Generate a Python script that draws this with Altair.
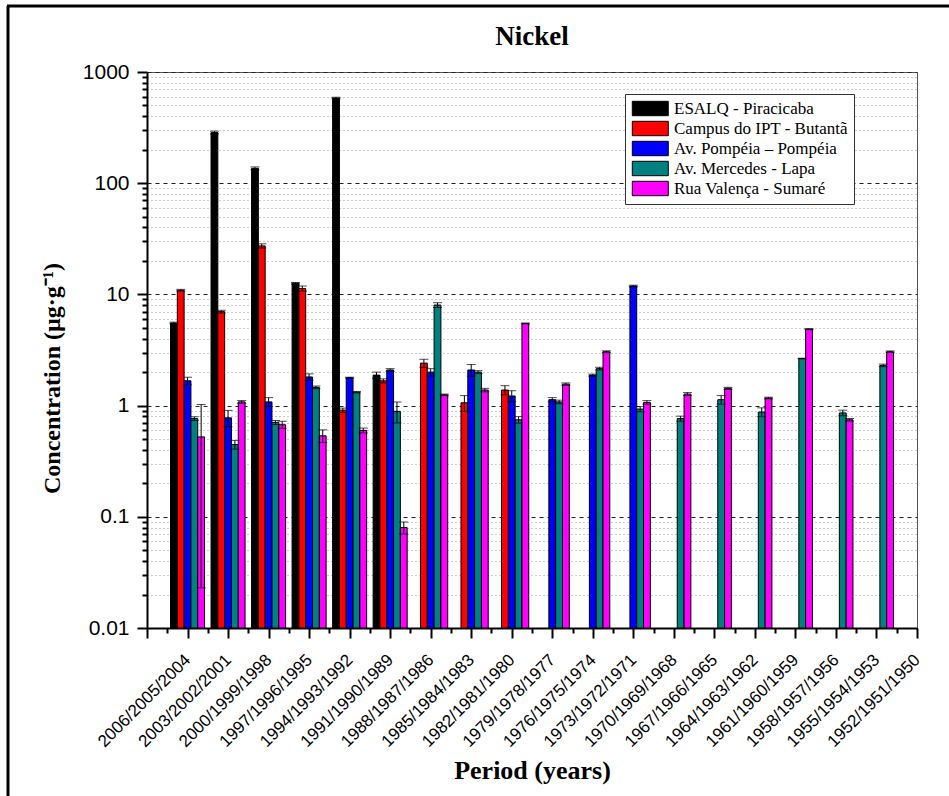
import altair as alt
import pandas as pd

periods = ["2006/2005/2004", "2003/2002/2001", "2000/1999/1998", "1997/1996/1995",
           "1994/1993/1992", "1991/1990/1989", "1988/1987/1986", "1985/1984/1983",
           "1982/1981/1980", "1979/1978/1977", "1976/1975/1974", "1973/1972/1971",
           "1970/1969/1968", "1967/1966/1965", "1964/1963/1962", "1961/1960/1959",
           "1958/1957/1956", "1955/1954/1953", "1952/1951/1950"]

series = ["ESALQ - Piracicaba", "Campus do IPT - Butantã", "Av. Pompéia – Pompéia",
          "Av. Mercedes - Lapa", "Rua Valença - Sumaré"]
colors = ["#000000", "#FF0000", "#0000FF", "#008080", "#FF00FF"]

# values per period (first 18 periods carry data, last one none)
esalq = [5.53, 286, 136, 12.6, 583, 1.88, None, None, None, None, None, None, None, None, None, None, None, None, None]
ipt = [10.9, 7.0, 27.3, 11.3, 0.91, 1.67, 2.41, 1.06, 1.38, None, None, None, None, None, None, None, None, None, None]
pompeia = [1.67, 0.776, 1.08, 1.81, 1.78, 2.09, 2.0, 2.09, 1.22, 1.13, 1.88, 11.9, None, None, None, None, None, None, None]
mercedes = [0.764, 0.446, 0.706, 1.46, 1.32, 0.888, 8.02, 2.0, 0.746, 1.08, 2.15, 0.93, 0.764, 1.13, 0.875, 2.65, 0.86, 2.3, None]
valenca = [0.523, 1.08, 0.673, 0.535, 0.598, 0.080, 1.25, 1.38, 5.48, 1.56, 3.05, 1.07, 1.27, 1.43, 1.17, 4.87, 0.746, 3.05, None]

esalq_err = [0.1, 8, 4, 0.2, 10, 0.12, None, None, None, None, None, None, None, None, None, None, None, None, None]
ipt_err = [0.2, 0.2, 1.2, 0.6, 0.04, 0.07, 0.2, 0.17, 0.13, None, None, None, None, None, None, None, None, None, None]
pompeia_err = [0.13, 0.13, 0.1, 0.12, 0.02, 0.06, 0.15, 0.25, 0.14, 0.05, 0.04, 0.2, None, None, None, None, None, None, None]
mercedes_err = [0.03, 0.04, 0.03, 0.04, 0.02, 0.19, 0.4, 0.06, 0.05, 0.04, 0.06, 0.05, 0.04, 0.1, 0.08, 0.02, 0.05, 0.06, None]
valenca_err = [0.50, 0.03, 0.05, 0.07, 0.03, 0.01, 0.02, 0.05, 0.05, 0.04, 0.06, 0.04, 0.04, 0.03, 0.02, 0.05, 0.02, 0.05, None]

all_vals = [esalq, ipt, pompeia, mercedes, valenca]
all_errs = [esalq_err, ipt_err, pompeia_err, mercedes_err, valenca_err]

group_width = 0.84
bw = group_width / len(series)
rows = []
for s, (vals, errs) in enumerate(zip(all_vals, all_errs)):
    for k, (v, e) in enumerate(zip(vals, errs)):
        if v is None:
            continue
        pos = k + 1
        x0 = pos - group_width / 2 + s * bw
        rows.append({"series": series[s], "period": periods[k], "x0": x0, "x1": x0 + bw,
                     "xc": x0 + bw / 2, "value": v,
                     "lo": max(v - e, 0.011), "hi": v + e})
df = pd.DataFrame(rows)

W, H = 770, 556
ymin, ymax = 0.01, 1000
yticks = []
for d in [0.01, 0.1, 1, 10, 100]:
    for m in range(1, 10):
        yticks.append(round(d * m, 4))
yticks.append(1000)
xticks = [i * 0.5 for i in range(39)]

label_arr = "[" + ",".join("'" + p + "'" for p in periods) + "]"
major_y = "abs(log(datum.value)/LN10 - round(log(datum.value)/LN10)) < 0.001"

xscale = alt.Scale(domain=[0, 19], nice=False, zero=False)
yscale = alt.Scale(type="log", domain=[ymin, ymax], nice=False)

xaxis = alt.Axis(values=xticks, title="Period (years)",
                 labelExpr="datum.value % 1 == 0 && datum.value >= 1 ? " + label_arr + "[datum.value - 1] : ''",
                 labelAngle=-45, labelAlign="right", labelBaseline="middle",
                 labelOverlap=False, labelFlush=False, labelFont="Liberation Sans",
                 labelFontSize=17, labelColor="black", labelPadding=19,
                 tickSize={"condition": {"test": "datum.value % 1 == 0", "value": 10}, "value": 5},
                 tickWidth=2, tickColor="black", domainColor="black", domainWidth=2,
                 grid=False, titleFont="Liberation Serif", titleFontSize=26,
                 titleFontWeight="bold", titleColor="black", titleY=142,
                 titleBaseline="middle")
yaxis = alt.Axis(values=yticks, title="Concentration  (µg·g⁻¹)",
                 labelExpr=major_y + " ? format(datum.value, '~g') : ''",
                 labelFont="Liberation Sans", labelFontSize=21, labelColor="black",
                 labelPadding=8,
                 tickSize={"condition": {"test": major_y, "value": 10}, "value": 5},
                 tickWidth=2, tickColor="black", domainColor="black", domainWidth=2,
                 grid=True,
                 gridColor={"condition": {"test": major_y, "value": "#222222"}, "value": "#9a9a9a"},
                 gridDash={"condition": {"test": major_y, "value": [4, 4]}, "value": [1, 3]},
                 gridWidth=1,
                 titleFont="Liberation Serif", titleFontSize=24, titleFontWeight="bold",
                 titleColor="black", titleX=-95, titleY=306, titleAngle=-90,
                 titleAlign="center", titleBaseline="middle")

bars = alt.Chart(df).mark_bar(stroke="black", strokeWidth=1).encode(
    x=alt.X("x0:Q", scale=xscale, axis=xaxis),
    x2="x1:Q",
    y=alt.Y("value:Q", scale=yscale, axis=yaxis),
    y2=alt.datum(ymin),
    color=alt.Color("series:N", scale=alt.Scale(domain=series, range=colors),
                    legend=alt.Legend(title=None, orient="none", legendX=478, legendY=22,
                                      symbolType="M-1,-1H4V1H-1Z", symbolSize=207,
                                      symbolStrokeColor="black", symbolStrokeWidth=1,
                                      labelFont="Liberation Serif", labelFontSize=17,
                                      labelColor="black", labelOffset=26, rowPadding=1,
                                      strokeColor="#333333", fillColor="white", padding=6,
                                      labelLimit=300)),
)

err_rule = alt.Chart(df).mark_rule(color="black", strokeWidth=1).encode(
    x=alt.X("xc:Q", scale=xscale, axis=xaxis),
    y=alt.Y("lo:Q", scale=yscale, axis=yaxis),
    y2="hi:Q",
)
cap_hi = alt.Chart(df).mark_tick(color="black", orient="horizontal", size=9, thickness=1).encode(
    x=alt.X("xc:Q", scale=xscale, axis=xaxis),
    y=alt.Y("hi:Q", scale=yscale, axis=yaxis),
)
cap_lo = alt.Chart(df).mark_tick(color="black", orient="horizontal", size=9, thickness=1).encode(
    x=alt.X("xc:Q", scale=xscale, axis=xaxis),
    y=alt.Y("lo:Q", scale=yscale, axis=yaxis),
)

frame_df = pd.DataFrame({"a": [0]})
frame_left = alt.Chart(frame_df).mark_rule(color="black", strokeWidth=3).encode(
    x=alt.value(-139), y=alt.value(-66), y2=alt.value(740))
frame_top = alt.Chart(frame_df).mark_rule(color="black", strokeWidth=3).encode(
    x=alt.value(-140), x2=alt.value(820), y=alt.value(-66))

chart = alt.layer(bars, err_rule, cap_hi, cap_lo, frame_left, frame_top).properties(
    width=W, height=H,
    background="white",
    title=alt.Title("Nickel", font="Liberation Serif", fontSize=27, fontWeight="bold",
                    color="black", offset=0, dy=46),
    autosize=alt.AutoSizeParams(type="none"),
    padding={"left": 147, "top": 72, "right": 32, "bottom": 168},
).configure_view(stroke="#555555", strokeWidth=1)

chart.save("out.html", embed_options={"renderer": "svg", "actions": False})
